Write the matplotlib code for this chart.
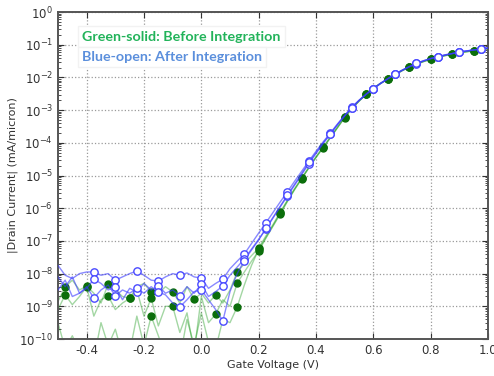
import numpy as np
import matplotlib
matplotlib.use("Agg")
import matplotlib.pyplot as plt
from matplotlib.ticker import LogLocator, NullFormatter

# gate sweep, 25 mV steps
gate_v = np.linspace(-0.5, 1.0, 61)

# log10 of |Id| (mA/micron), three devices before integration
before_1 = [-8.85, -8.41, -8.20, -8.50, -8.38, -8.60, -8.90, -8.32, -8.50, -8.70,
            -8.75, -8.40, -8.30, -8.56, -8.60, -8.40, -8.56, -8.90, -8.40, -8.78,
            -8.60, -8.90, -8.65, -8.90, -8.50, -7.95, -7.70, -7.45, -7.22, -6.85,
            -6.50, -6.12, -5.76, -5.41, -5.08, -4.75, -4.43, -4.13, -3.83, -3.52,
            -3.21, -2.95, -2.72, -2.51, -2.33, -2.18, -2.05, -1.92, -1.79, -1.68,
            -1.59, -1.51, -1.44, -1.38, -1.33, -1.28, -1.24, -1.21, -1.18, -1.15,
            -1.12]
before_2 = [-9.10, -8.65, -8.95, -8.70, -8.40, -9.30, -8.80, -8.68, -9.10, -8.90,
            -8.76, -8.50, -9.30, -8.75, -9.60, -9.00, -9.00, -9.80, -9.20, -10.40,
            -8.70, -9.50, -9.24, -8.80, -9.00, -8.29, -7.95, -7.62, -7.31, -6.92,
            -6.55, -6.18, -5.80, -5.44, -5.10, -4.77, -4.45, -4.15, -3.85, -3.54,
            -3.23, -2.96, -2.73, -2.52, -2.34, -2.19, -2.06, -1.93, -1.80, -1.69,
            -1.60, -1.52, -1.45, -1.39, -1.34, -1.29, -1.25, -1.22, -1.19, -1.16,
            -1.13]
before_3 = [-9.50, -10.30, -9.90, -10.40, -10.30, -10.60, -9.50, -10.20, -9.70, -10.50,
            -10.40, -9.30, -10.20, -9.30, -9.90, -10.50, -10.30, -10.60, -9.40, -10.20,
            -9.20, -10.10, -10.30, -9.40, -9.50, -9.02, -8.35, -7.75, -7.26, -6.90,
            -6.53, -6.15, -5.78, -5.42, -5.09, -4.76, -4.44, -4.14, -3.84, -3.53,
            -3.22, -2.95, -2.72, -2.51, -2.33, -2.18, -2.05, -1.92, -1.79, -1.68,
            -1.59, -1.51, -1.44, -1.38, -1.33, -1.28, -1.24, -1.21, -1.18, -1.15,
            -1.12]

# same devices after integration
after_1 = [-7.75, -8.05, -8.15, -8.00, -7.95, -7.95, -8.05, -8.00, -8.20, -8.10,
           -8.00, -7.92, -8.05, -8.20, -8.23, -8.10, -8.00, -8.05, -7.98, -8.10,
           -8.14, -8.45, -8.30, -8.17, -7.85, -7.62, -7.40, -7.08, -6.76, -6.45,
           -6.13, -5.81, -5.50, -5.18, -4.87, -4.56, -4.26, -3.97, -3.70, -3.42,
           -3.16, -2.91, -2.70, -2.51, -2.34, -2.18, -2.04, -1.90, -1.78, -1.67,
           -1.57, -1.49, -1.42, -1.37, -1.31, -1.27, -1.22, -1.19, -1.16, -1.13,
           -1.10]
after_2 = [-8.10, -8.40, -8.10, -8.60, -8.45, -8.17, -8.30, -8.50, -8.41, -8.80,
           -8.45, -8.56, -8.30, -8.50, -8.38, -8.60, -8.50, -8.68, -8.40, -8.60,
           -8.32, -8.70, -8.55, -8.38, -8.05, -7.80, -7.55, -7.25, -6.95, -6.64,
           -6.30, -5.96, -5.63, -5.30, -4.97, -4.64, -4.33, -4.02, -3.74, -3.45,
           -3.18, -2.93, -2.71, -2.52, -2.35, -2.19, -2.05, -1.91, -1.79, -1.68,
           -1.58, -1.50, -1.43, -1.37, -1.32, -1.27, -1.23, -1.19, -1.16, -1.13,
           -1.10]
after_3 = [-8.50, -8.20, -8.70, -8.60, -8.40, -8.75, -8.50, -8.35, -8.68, -8.50,
           -8.60, -8.45, -8.60, -8.40, -8.56, -8.65, -8.90, -9.02, -8.80, -8.55,
           -8.50, -8.80, -9.10, -9.45, -8.55, -8.00, -7.60, -7.28, -6.97, -6.62,
           -6.28, -5.94, -5.60, -5.27, -4.94, -4.60, -4.30, -4.00, -3.72, -3.44,
           -3.17, -2.92, -2.70, -2.51, -2.34, -2.18, -2.04, -1.90, -1.78, -1.67,
           -1.57, -1.49, -1.42, -1.37, -1.31, -1.27, -1.22, -1.19, -1.16, -1.13,
           -1.10]

x_ticks = [-0.4, -0.2, 0.0, 0.2, 0.4, 0.6, 0.8, 1.0]

green_marks = list(range(1, 61, 3))
blue_marks = list(range(5, 61, 3))

fig = plt.figure(figsize=(4.94, 3.76), dpi=100)
ax = fig.add_axes([0.1174, 0.0984, 0.8705, 0.8696])

for logi in (before_1, before_2, before_3):
    ax.plot(gate_v, 10.0 ** np.array(logi), '-', color='#1a9a1a', lw=1.0, alpha=0.4)
    ax.plot(gate_v[green_marks], 10.0 ** np.array(logi)[green_marks], 'o',
            color='#0b6e0b', mec='#0b6e0b', ms=5.0, zorder=4)

for logi in (after_1, after_2, after_3):
    ax.plot(gate_v, 10.0 ** np.array(logi), '-', color='#3a3aff', lw=1.0, alpha=0.6,
            zorder=5)
    ax.plot(gate_v[blue_marks], 10.0 ** np.array(logi)[blue_marks], 'o',
            mfc='white', mec='#4a4aff', mew=1.0, ms=5.3, zorder=6)

ax.set_yscale('log')
ax.set_xlim(-0.5, 1.0)
ax.set_ylim(1e-10, 1e0)
ax.yaxis.set_major_locator(LogLocator(base=10, numticks=12))
ax.yaxis.set_minor_locator(LogLocator(base=10, subs=np.arange(2, 10), numticks=12))
ax.yaxis.set_minor_formatter(NullFormatter())
ax.set_xticks(x_ticks)
ax.set_xticklabels(['%.1f' % v for v in x_ticks])
ax.grid(True, which='major', ls=':', color='#9a9a9a', lw=0.9)
ax.tick_params(which='both', direction='in', top=True, right=True,
               labelsize=8.5, colors='#333333')
ax.tick_params(which='major', length=4)
ax.tick_params(which='minor', length=2)
for sp in ax.spines.values():
    sp.set_color('#555555')
    sp.set_linewidth(1.4)

ax.set_xlabel('Gate Voltage (V)', fontsize=8, color='#333333', labelpad=2)
ax.set_ylabel('|Drain Current| (mA/micron)', fontsize=8, color='#333333', labelpad=1)

box = dict(facecolor='white', edgecolor='#f2f2f2', pad=3)
ax.text(0.056, 0.925, 'Green-solid: Before Integration', transform=ax.transAxes,
        fontsize=10.3, fontweight='bold', family='Lato', color='#22b35a',
        va='center', ha='left', bbox=box, zorder=7)
ax.text(0.056, 0.862, 'Blue-open: After Integration', transform=ax.transAxes,
        fontsize=10.3, fontweight='bold', family='Lato', color='#5b8fdc',
        va='center', ha='left', bbox=box, zorder=7)

fig.savefig('out.png', dpi=100)
